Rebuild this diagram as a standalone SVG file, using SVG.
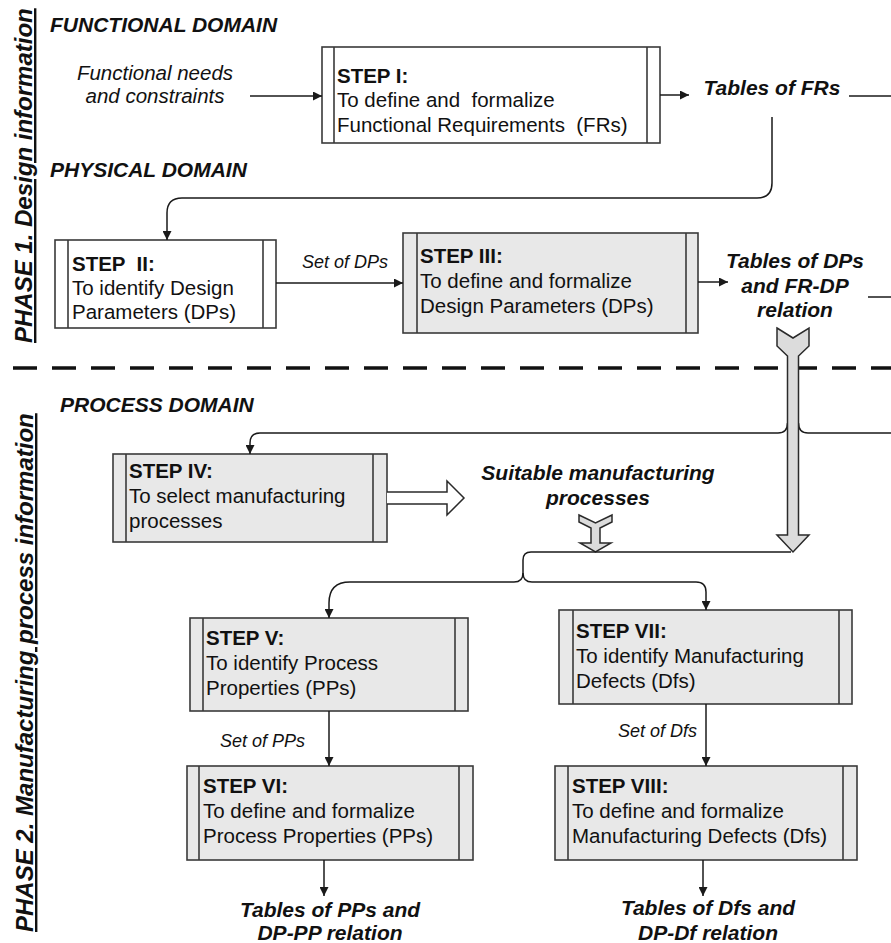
<svg xmlns="http://www.w3.org/2000/svg" width="891" height="943" viewBox="0 0 891 943">
  <defs>
    <marker id="ah" viewBox="0 0 10 10" refX="10" refY="5" markerWidth="10" markerHeight="9" markerUnits="userSpaceOnUse" orient="auto">
      <path d="M0,0 L10,5 L0,10 z" fill="#1a1a1a"/>
    </marker>
    <style>
      .box { stroke: #3a3a3a; stroke-width: 1.6; }
      .white { fill: #ffffff; }
      .grey { fill: #e8e8e8; }
      .div { stroke: #3a3a3a; stroke-width: 1.6; fill: none; }
      .conn { stroke: #1a1a1a; stroke-width: 1.5; fill: none; }
      .big { fill: #dcdcdc; stroke: #2a2a2a; stroke-width: 1.5; }
      .hollow { fill: #ffffff; stroke: #2a2a2a; stroke-width: 1.5; }
      .step { font-family: "Liberation Sans", Arial, sans-serif; font-size: 20.5px; fill: #111; white-space: pre; }
      .step .h { font-weight: bold; }
      .dom { font-family: "Liberation Sans", Arial, sans-serif; font-size: 21px; font-weight: bold; font-style: italic; fill: #111; }
      .out { font-family: "Liberation Sans", Arial, sans-serif; font-size: 21px; font-weight: bold; font-style: italic; fill: #111; text-anchor: middle; }
      .lab { font-family: "Liberation Sans", Arial, sans-serif; font-size: 18px; font-style: italic; fill: #111; }
      .inp { font-family: "Liberation Sans", Arial, sans-serif; font-size: 20.5px; font-style: italic; fill: #111; text-anchor: middle; }
      .phase { font-family: "Liberation Sans", Arial, sans-serif; font-size: 24px; font-weight: bold; font-style: italic; fill: #111; text-decoration: underline; }
    </style>
  </defs>

  <!-- phase titles -->
  <text class="phase" transform="translate(32,343) rotate(-90)">PHASE 1. Design information</text>
  <text class="phase" transform="translate(33,932) rotate(-90)">PHASE 2. Manufacturing process information</text>

  <!-- domain headings -->
  <text class="dom" x="50" y="32">FUNCTIONAL DOMAIN</text>
  <text class="dom" x="50" y="177">PHYSICAL DOMAIN</text>
  <text class="dom" x="60" y="412">PROCESS DOMAIN</text>

  <!-- phase separator -->
  <line x1="13" y1="368" x2="891" y2="368" stroke="#111" stroke-width="3.5" stroke-dasharray="24 15"/>

  <!-- free labels -->
  <g id="input-needs">
    <text class="inp" x="155" y="80">Functional needs</text>
    <text class="inp" x="155" y="103">and constraints</text>
  </g>
  <g id="tables-frs"><text class="out" x="772" y="95">Tables of FRs</text></g>
  <g id="tables-dps">
    <text class="out" x="795" y="268">Tables of DPs</text>
    <text class="out" x="795" y="293">and FR-DP</text>
    <text class="out" x="795" y="317">relation</text>
  </g>
  <g id="suitable-processes">
    <text class="out" x="598" y="480">Suitable manufacturing</text>
    <text class="out" x="598" y="505">processes</text>
  </g>
  <g id="tables-pps">
    <text class="out" x="330" y="917">Tables of PPs and</text>
    <text class="out" x="330" y="940">DP-PP relation</text>
  </g>
  <g id="tables-dfs">
    <text class="out" x="708" y="915">Tables of Dfs and</text>
    <text class="out" x="708" y="940">DP-Df relation</text>
  </g>

  <!-- step boxes -->
  <g id="step1">
    <rect class="box white" x="322" y="47" width="338" height="96"/>
    <path class="div" d="M334,47 V143 M647,47 V143"/>
    <text class="step" x="337" y="83"><tspan class="h">STEP I:</tspan></text>
    <text class="step" x="337" y="107">To define and  formalize</text>
    <text class="step" x="337" y="132">Functional Requirements  (FRs)</text>
  </g>
  <g id="step2">
    <rect class="box white" x="55" y="240" width="221" height="88"/>
    <path class="div" d="M68,240 V328 M263,240 V328"/>
    <text class="step" x="72" y="271"><tspan class="h">STEP  II:</tspan></text>
    <text class="step" x="72" y="295">To identify Design</text>
    <text class="step" x="72" y="319">Parameters (DPs)</text>
  </g>
  <g id="step3">
    <rect class="box grey" x="403" y="233" width="295" height="100"/>
    <path class="div" d="M417,233 V333 M686,233 V333"/>
    <text class="step" x="420" y="263"><tspan class="h">STEP III:</tspan></text>
    <text class="step" x="420" y="288">To define and formalize</text>
    <text class="step" x="420" y="313">Design Parameters (DPs)</text>
  </g>
  <g id="step4">
    <rect class="box grey" x="113" y="454" width="274" height="88"/>
    <path class="div" d="M126,454 V542 M373,454 V542"/>
    <text class="step" x="129" y="478"><tspan class="h">STEP IV:</tspan></text>
    <text class="step" x="129" y="503">To select manufacturing</text>
    <text class="step" x="129" y="528">processes</text>
  </g>
  <g id="step5">
    <rect class="box grey" x="190" y="618" width="278" height="93"/>
    <path class="div" d="M203,618 V711 M455,618 V711"/>
    <text class="step" x="206" y="645"><tspan class="h">STEP V:</tspan></text>
    <text class="step" x="206" y="670">To identify Process</text>
    <text class="step" x="206" y="695">Properties (PPs)</text>
  </g>
  <g id="step6">
    <rect class="box grey" x="187" y="766" width="286" height="94"/>
    <path class="div" d="M199,766 V860 M459,766 V860"/>
    <text class="step" x="203" y="793"><tspan class="h">STEP VI:</tspan></text>
    <text class="step" x="203" y="818">To define and formalize</text>
    <text class="step" x="203" y="843">Process Properties (PPs)</text>
  </g>
  <g id="step7">
    <rect class="box grey" x="559" y="610" width="293" height="94"/>
    <path class="div" d="M573,610 V704 M839,610 V704"/>
    <text class="step" x="576" y="638"><tspan class="h">STEP VII:</tspan></text>
    <text class="step" x="576" y="663">To identify Manufacturing</text>
    <text class="step" x="576" y="688">Defects (Dfs)</text>
  </g>
  <g id="step8">
    <rect class="box grey" x="555" y="766" width="302" height="94"/>
    <path class="div" d="M568,766 V860 M843,766 V860"/>
    <text class="step" x="572" y="793"><tspan class="h">STEP VIII:</tspan></text>
    <text class="step" x="572" y="818">To define and formalize</text>
    <text class="step" x="572" y="843">Manufacturing Defects (Dfs)</text>
  </g>

  <!-- connectors -->
  <g id="connectors">
    <path class="conn" d="M250,96 H322" marker-end="url(#ah)"/>
    <path class="conn" d="M660,95 H689" marker-end="url(#ah)"/>
    <path class="conn" d="M849,96 H891"/>
    <path class="conn" d="M772,117 V183 Q772,198 757,198 H182 Q167,198 167,213 V240" marker-end="url(#ah)"/>
    <path class="conn" d="M276,283 H403" marker-end="url(#ah)"/>
    <text class="lab" x="302" y="268">Set of DPs</text>
    <path class="conn" d="M698,282 H728" marker-end="url(#ah)"/>
    <path class="conn" d="M868,297 H891"/>

    <!-- branch from the DP tables to process selection -->
    <path class="conn" d="M891,433 H808 Q798.5,433 798.5,423"/>
    <path class="conn" d="M787.5,423 Q787.5,433 778,433 H260 Q250,433 250,443 V454" marker-end="url(#ah)"/>

    <!-- wide arrow: DP tables down to the branch -->
    <path class="big" d="M777,328 L793,338 L809,328 L809,346 L798.5,356 L798.5,535 L809,535 L793,552 L777,535 L787.5,535 L787.5,356 L777,346 Z"/>

    <!-- hollow arrow out of step IV -->
    <path class="hollow" d="M387,492 H447 V481 L464,498 L447,515 V504 H387"/>

    <!-- small arrow below the suitable processes -->
    <path class="big" d="M579,515 L595.5,523 L612,515 L612,522 L600,528 L600,543 L611,543 L595.5,552 L580,543 L591,543 L591,528 L579,522 Z"/>

    <!-- split towards steps V and VII -->
    <path class="conn" d="M791,552 H531 Q523,552 523,560 V573 Q523,582 514,582 H350 Q329,582 329,603 V618" marker-end="url(#ah)"/>
    <path class="conn" d="M523,573 Q523,582 532,582 H696 Q706,582 706,592 V610" marker-end="url(#ah)"/>

    <path class="conn" d="M329,711 V766" marker-end="url(#ah)"/>
    <text class="lab" x="305" y="747" text-anchor="end">Set of PPs</text>
    <path class="conn" d="M706,704 V766" marker-end="url(#ah)"/>
    <text class="lab" x="697" y="737" text-anchor="end">Set of Dfs</text>

    <path class="conn" d="M324,860 V896" marker-end="url(#ah)"/>
    <path class="conn" d="M703,860 V896" marker-end="url(#ah)"/>
  </g>
</svg>
